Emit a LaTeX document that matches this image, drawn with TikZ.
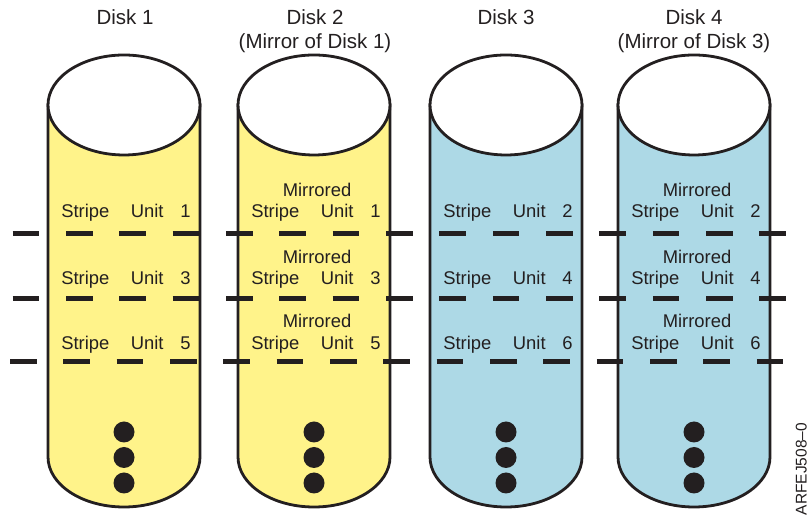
\documentclass[tikz,border=0pt]{standalone}
\usepackage{fontspec}
\setmainfont{Liberation Sans}
\usetikzlibrary{calc}
\definecolor{diskyellow}{HTML}{FFF38A}
\definecolor{diskblue}{HTML}{ADD9E6}
\definecolor{ink}{HTML}{231F20}
\tikzset{
  outline/.style={line width=2.8pt, color=ink},
  dashrow/.style={line width=5pt, color=ink, dash pattern=on 26.67pt off 26.67pt},
  title/.style={anchor=base, text=ink, inner sep=0pt, font=\fontsize{20.5}{24}\selectfont},
  unitlabel/.style={anchor=base, text=ink, inner sep=0pt, font=\fontsize{18.4}{22}\selectfont},
}
\def\disk[#1](#2){%
  \draw[outline, fill=#1] ($(#2)+(-76,0)$) -- ($(#2)+(-76,-352)$) arc (180:360:76pt and 50pt) -- ($(#2)+(76,0)$) -- cycle;
  \draw[outline, fill=white] (#2) ellipse [x radius=76pt, y radius=50pt];}
\def\su#1{Stripe\hspace{21.5pt}Unit\hspace{16.8pt}#1}

\begin{document}
\begin{tikzpicture}[x=1pt, y=1pt]
			%%%%% START %%%%%
			\useasboundingbox (0, 0) rectangle (810, 518);
			
			% disks
			\disk[diskyellow](124, 413)
			\disk[diskyellow](314, 413)
			\disk[diskblue](506, 413)
			\disk[diskblue](694, 413)
			
			% titles
			\node[title] (t1) at (125, 493) {Disk 1};
			\node[title] (t2) at (315, 493) {Disk 2};
			\node[title] (m2) at (315, 469.7) {(Mirror of Disk 1)};
			\node[title] (t3) at (506, 493) {Disk 3};
			\node[title] (t4) at (694, 493) {Disk 4};
			\node[title] (m4) at (694, 469.7) {(Mirror of Disk 3)};
			
			% disk 1
			\node[unitlabel] (d1u1) at (126, 300) {\su{1}};
			\node[unitlabel] (d1u3) at (126, 233) {\su{3}};
			\node[unitlabel] (d1u5) at (126, 168.5) {\su{5}};
			
			% disk 2
			\node[unitlabel] (d2r1) at (317, 321.5) {Mirrored};
			\node[unitlabel] (d2u1) at (316, 300) {\su{1}};
			\node[unitlabel] (d2r3) at (317, 254.7) {Mirrored};
			\node[unitlabel] (d2u3) at (316, 233) {\su{3}};
			\node[unitlabel] (d2r5) at (317, 190) {Mirrored};
			\node[unitlabel] (d2u5) at (316, 168.5) {\su{5}};
			
			% disk 3
			\node[unitlabel] (d3u2) at (508, 300) {\su{2}};
			\node[unitlabel] (d3u4) at (508, 233) {\su{4}};
			\node[unitlabel] (d3u6) at (508, 168.5) {\su{6}};
			
			% disk 4
			\node[unitlabel] (d4r2) at (697, 321.5) {Mirrored};
			\node[unitlabel] (d4u2) at (696, 300) {\su{2}};
			\node[unitlabel] (d4r4) at (697, 254.7) {Mirrored};
			\node[unitlabel] (d4u4) at (696, 233) {\su{4}};
			\node[unitlabel] (d4r6) at (697, 190) {Mirrored};
			\node[unitlabel] (d4u6) at (696, 168.5) {\su{6}};
			
			% more units
			\fill[ink] (124, 86) circle (10.5pt);
			\fill[ink] (124, 60.5) circle (10.5pt);
			\fill[ink] (124, 35) circle (10.5pt);
			\fill[ink] (314, 86) circle (10.5pt);
			\fill[ink] (314, 60.5) circle (10.5pt);
			\fill[ink] (314, 35) circle (10.5pt);
			\fill[ink] (506, 86) circle (10.5pt);
			\fill[ink] (506, 60.5) circle (10.5pt);
			\fill[ink] (506, 35) circle (10.5pt);
			\fill[ink] (694, 86) circle (10.5pt);
			\fill[ink] (694, 60.5) circle (10.5pt);
			\fill[ink] (694, 35) circle (10.5pt);
			
			% stripe boundaries
			\draw[dashrow] (12.7, 284.5) -- (786, 284.5);
			\draw[dashrow] (12.7, 219) -- (786, 219);
			\draw[dashrow] (10, 156) -- (783.3, 156);
			
			\node[rotate=90, anchor=base west, inner sep=0pt, text=ink, font=\fontsize{15.5}{18}\selectfont] (fig) at (806.5, 2.5) {ARFEJ508–0};
			
			%%%%% END %%%%%
\end{tikzpicture}
\end{document}
